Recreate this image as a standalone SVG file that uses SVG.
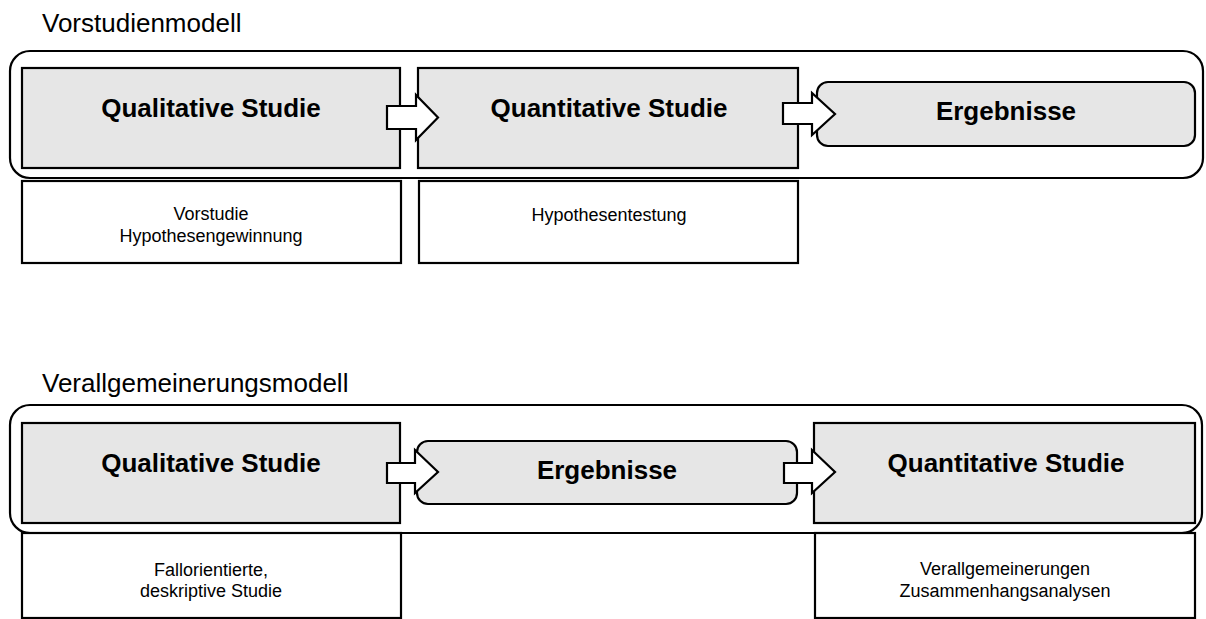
<svg xmlns="http://www.w3.org/2000/svg" width="1206" height="619" viewBox="0 0 1206 619">
  <style>
    .frame { fill: none; stroke: #000; stroke-width: 2.2; }
    .study { fill: #e6e6e6; stroke: #000; stroke-width: 2.2; }
    .note { fill: #fff; stroke: #000; stroke-width: 2.2; }
    .arrow { fill: #fff; stroke: #000; stroke-width: 2.2; stroke-linejoin: miter; }
    .title { font-family: "Liberation Sans", Arial, sans-serif; font-size: 26px; fill: #000; }
    .head { font-family: "Liberation Sans", Arial, sans-serif; font-size: 26px; font-weight: bold; fill: #000; text-anchor: middle; }
    .small { font-family: "Liberation Sans", Arial, sans-serif; font-size: 18px; fill: #000; text-anchor: middle; }
  </style>
  <rect width="1206" height="619" fill="#fff"/>

  <!-- Model 1 -->
  <text class="title" x="42" y="32">Vorstudienmodell</text>
  <rect id="frame-vorstudie" class="frame" x="10" y="51" width="1193" height="127" rx="20"/>

  <g id="v-qualitativ">
    <rect class="study" x="22" y="68" width="378" height="100"/>
    <text class="head" x="211" y="117">Qualitative Studie</text>
  </g>
  <g id="v-quantitativ">
    <rect class="study" x="418" y="68" width="380" height="100"/>
    <text class="head" x="609" y="117">Quantitative Studie</text>
  </g>
  <g id="v-ergebnisse">
    <rect class="study" x="817" y="82" width="378" height="64" rx="11"/>
    <text class="head" x="1006" y="120">Ergebnisse</text>
  </g>
  <g id="v-note-qualitativ">
    <rect class="note" x="22" y="181" width="379" height="82"/>
    <text class="small" x="211" y="220">Vorstudie</text>
    <text class="small" x="211" y="242">Hypothesengewinnung</text>
  </g>
  <g id="v-note-quantitativ">
    <rect class="note" x="419" y="181" width="379" height="82"/>
    <text class="small" x="609" y="221">Hypothesentestung</text>
  </g>

  <!-- Model 2 -->
  <text class="title" x="42" y="392">Verallgemeinerungsmodell</text>
  <rect id="frame-verallgemeinerung" class="frame" x="10" y="405" width="1192" height="128" rx="20"/>

  <g id="g-qualitativ">
    <rect class="study" x="22" y="423" width="378" height="100"/>
    <text class="head" x="211" y="472">Qualitative Studie</text>
  </g>
  <g id="g-ergebnisse">
    <rect class="study" x="417" y="441" width="380" height="63" rx="11"/>
    <text class="head" x="607" y="479">Ergebnisse</text>
  </g>
  <g id="g-quantitativ">
    <rect class="study" x="814" y="423" width="381" height="100"/>
    <text class="head" x="1006" y="472">Quantitative Studie</text>
  </g>
  <g id="g-note-qualitativ">
    <rect class="note" x="22" y="533" width="379" height="85"/>
    <text class="small" x="211" y="576">Fallorientierte,</text>
    <text class="small" x="211" y="597">deskriptive Studie</text>
  </g>
  <g id="g-note-quantitativ">
    <rect class="note" x="815" y="533" width="380" height="85"/>
    <text class="small" x="1005" y="575">Verallgemeinerungen</text>
    <text class="small" x="1005" y="597">Zusammenhangsanalysen</text>
  </g>

  <!-- Block-arrow connectors -->
  <g id="connectors">
    <path class="arrow" d="M387,106 H416 V95 L438,117.5 L416,140 V129 H387 Z"/>
    <path class="arrow" d="M783,103 H812 V93 L835,114 L812,135 V124 H783 Z"/>
    <path class="arrow" d="M387,463 H415 V450 L438,472 L415,493 V483 H387 Z"/>
    <path class="arrow" d="M784,463 H812 V450 L835,472 L812,493 V483 H784 Z"/>
  </g>
</svg>
